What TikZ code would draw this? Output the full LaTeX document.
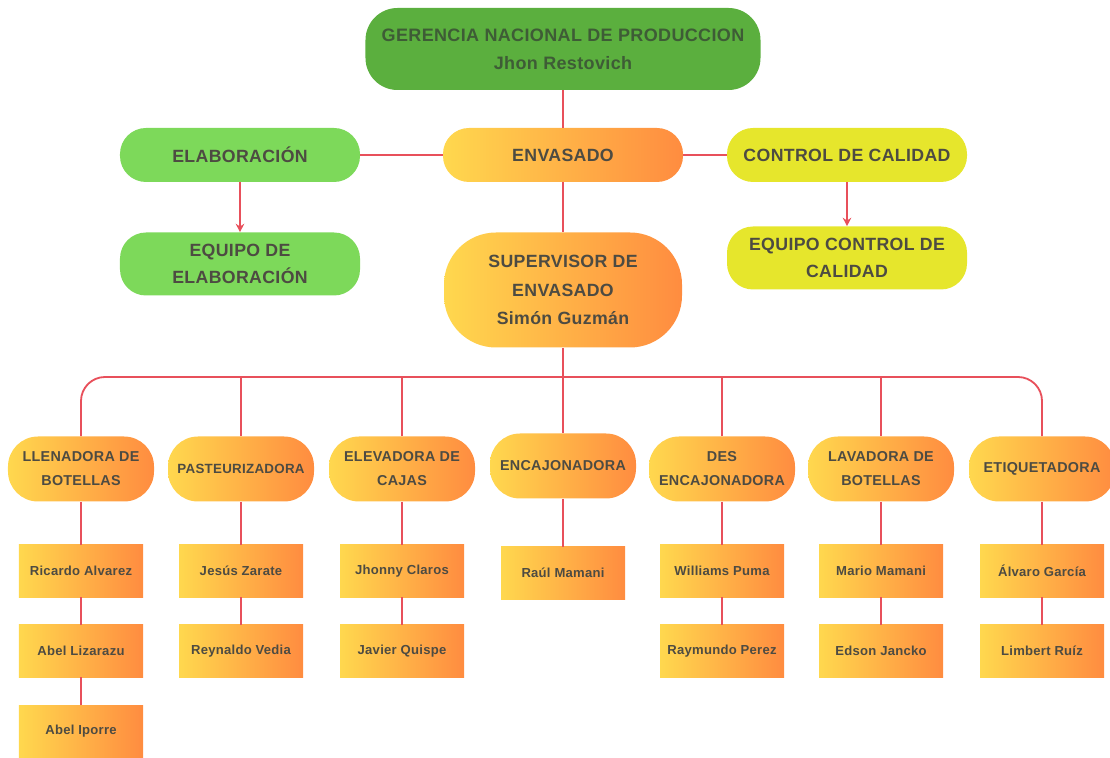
\documentclass[tikz,border=0pt]{standalone}
\usepackage{fontspec}
\setmainfont{Liberation Sans}[LetterSpace=2]
\usetikzlibrary{arrows.meta}

\definecolor{linkred}{HTML}{E8505B}
\definecolor{txtgray}{HTML}{4D4B42}
\definecolor{txtgreen}{HTML}{3E5C36}
\definecolor{topgreen}{HTML}{5BAF3E}
\definecolor{elabgreen}{HTML}{7DD95A}
\definecolor{calyellow}{HTML}{E6E62C}
\definecolor{gradL}{HTML}{FFD84E}
\definecolor{gradR}{HTML}{FF8C40}

\tikzset{
  link/.style={draw=linkred,line width=1.3pt},
  grad/.style={left color=gradL,right color=gradR},
  area/.style={align=center,text=txtgray,inner sep=0pt,
    minimum width=60mm,minimum height=13.5mm,rounded corners=6.5mm,
    font=\bfseries\fontsize{12.6}{19}\selectfont},
  machine/.style={grad,align=center,text=txtgray,inner sep=0pt,
    minimum width=36.5mm,minimum height=16.25mm,rounded corners=7.5mm,
    font=\bfseries\fontsize{10.2}{17}\selectfont},
  worker/.style={grad,align=center,text=txtgray,inner sep=0pt,
    minimum width=31mm,minimum height=13mm,
    font=\bfseries\fontsize{9.3}{12}\selectfont}
}

\begin{document}
\begin{tikzpicture}[x=0.25mm,y=-0.25mm,>={Stealth[length=6pt,width=6pt]}]
  \useasboundingbox (0,0) rectangle (1110,758);

  % Gerencia and its areas.
  \node[area,fill=topgreen,text=txtgreen,minimum width=98.75mm,minimum height=20.5mm,
        rounded corners=8mm,font=\bfseries\fontsize{12.8}{20}\selectfont] (ger) at (563,49)
    {GERENCIA NACIONAL DE PRODUCCION\\Jhon Restovich};
  \node[area,fill=elabgreen] (elab) at (240,155) {ELABORACIÓN};
  \node[area,grad] (env) at (563,155) {ENVASADO};
  \node[area,fill=calyellow] (cal) at (847,155) {CONTROL DE CALIDAD};
  \node[area,fill=elabgreen,minimum height=15.75mm] (eqelab) at (240,264) {EQUIPO DE\\ELABORACIÓN};
  \node[area,fill=calyellow,minimum height=15.75mm] (eqcal) at (847,258) {EQUIPO CONTROL DE\\CALIDAD};
  \node[area,grad,minimum width=59.5mm,minimum height=28.75mm,rounded corners=13mm,
        font=\bfseries\fontsize{12.6}{20}\selectfont] (sup) at (563,290)
    {SUPERVISOR DE\\ENVASADO\\Simón Guzmán};

  \draw[link] (ger) -- (env);
  \draw[link] (env) -- (elab);
  \draw[link] (env) -- (cal);
  \draw[link] (env) -- (sup);
  \draw[link,->] (elab) -- (eqelab);
  \draw[link,->] (cal) -- (eqcal);

  % Machines.
  \node[machine] (llen) at (81,469) {LLENADORA DE\\BOTELLAS};
  \node[machine,font=\bfseries\fontsize{9.5}{17}\selectfont] (past) at (241,469) {PASTEURIZADORA};
  \node[machine] (elev) at (402,469) {ELEVADORA DE\\CAJAS};
  \node[machine] (encaj) at (563,466) {ENCAJONADORA};
  \node[machine] (desen) at (722,469) {DES\\ENCAJONADORA};
  \node[machine] (lav) at (881,469) {LAVADORA DE\\BOTELLAS};
  \node[machine] (etiq) at (1042,469) {ETIQUETADORA};

  \coordinate (bar) at (563,377);
  \draw[link] (sup) -- (bar);
  \draw[link,rounded corners=6mm] (llen.north) |- (bar) -| (etiq.north);
  \draw[link] (past.north) -- (past.north |- bar);
  \draw[link] (elev.north) -- (elev.north |- bar);
  \draw[link] (encaj.north) -- (encaj.north |- bar);
  \draw[link] (desen.north) -- (desen.north |- bar);
  \draw[link] (lav.north) -- (lav.north |- bar);

  % Operators.
  \node[worker] (ricardo) at (81,571) {Ricardo Alvarez};
  \node[worker] (lizarazu) at (81,651) {Abel Lizarazu};
  \node[worker] (iporre) at (81,731) {Abel Iporre};
  \node[worker] (jesus) at (241,571) {Jesús Zarate};
  \node[worker] (reynaldo) at (241,651) {Reynaldo Vedia};
  \node[worker] (jhonny) at (402,571) {Jhonny Claros};
  \node[worker] (javier) at (402,651) {Javier Quispe};
  \node[worker] (raul) at (563,573) {Raúl Mamani};
  \node[worker] (williams) at (722,571) {Williams Puma};
  \node[worker] (raymundo) at (722,651) {Raymundo Perez};
  \node[worker] (mario) at (881,571) {Mario Mamani};
  \node[worker] (edson) at (881,651) {Edson Jancko};
  \node[worker] (alvaro) at (1042,571) {Álvaro García};
  \node[worker] (limbert) at (1042,651) {Limbert Ruíz};

  \draw[link] (llen) -- (ricardo) -- (lizarazu) -- (iporre);
  \draw[link] (past) -- (jesus) -- (reynaldo);
  \draw[link] (elev) -- (jhonny) -- (javier);
  \draw[link] (encaj) -- (raul);
  \draw[link] (desen) -- (williams) -- (raymundo);
  \draw[link] (lav) -- (mario) -- (edson);
  \draw[link] (etiq) -- (alvaro) -- (limbert);
\end{tikzpicture}
\end{document}
